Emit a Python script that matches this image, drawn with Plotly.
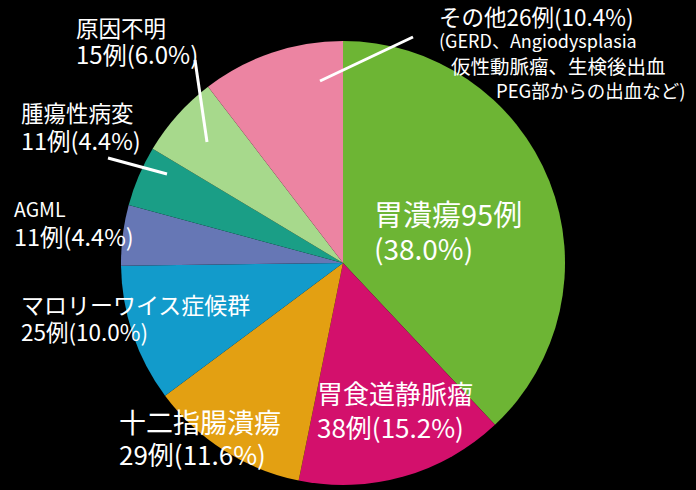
import plotly.graph_objects as go

W, H = 696, 490

categories = ["胃潰瘍", "胃食道静脈瘤", "十二指腸潰瘍", "マロリーワイス症候群",
              "AGML", "腫瘍性病変", "原因不明", "その他"]
counts = [95, 38, 29, 25, 11, 11, 15, 26]
percents = ["38.0", "15.2", "11.6", "10.0", "4.4", "4.4", "6.0", "10.4"]
other_detail = ["(GERD、Angiodysplasia", "仮性動脈瘤、生検後出血", "PEG部からの出血など)"]
colors = ["#6DB534", "#D3106C", "#E3A012", "#129BCB", "#6677B5",
          "#1A9E86", "#A7D98C", "#EC84A2"]

CJK = "Noto Sans CJK JP"

fig = go.Figure(go.Pie(
    labels=categories, values=counts, sort=False, direction="clockwise",
    rotation=0, marker=dict(colors=colors, line=dict(width=0)),
    textinfo="none", hoverinfo="label+value+percent",
    domain=dict(x=[121 / W, 565 / W], y=[1 - 485 / H, 1 - 41 / H]),
    showlegend=False,
))


def px(x):
    return x / W


def py(y):
    return 1 - y / H


def note(x, y, text, size, family=CJK):
    fig.add_annotation(x=px(x), y=py(y), xref="paper", yref="paper",
                       xanchor="left", yanchor="middle", align="left",
                       text=text, showarrow=False, borderpad=0,
                       font=dict(family=family, size=size, color="white"))


def cnt(i):
    return f"{counts[i]}例({percents[i]}%)"


# 胃潰瘍
note(373, 213, f"{categories[0]}{counts[0]}例", 29)
note(373, 248, f"({percents[0]}%)", 28)
# 胃食道静脈瘤
note(316, 392, categories[1], 26)
note(316, 426, cnt(1), 26)
# 十二指腸潰瘍
note(118, 421, categories[2], 27)
note(118, 453, cnt(2), 26)
# マロリーワイス症候群
note(20, 304, categories[3], 23)
note(20, 331, cnt(3), 22.5)
# AGML
note(13, 208, categories[4], 19.5)
note(13, 236, cnt(4), 23.5)
# 腫瘍性病変
note(20, 112, categories[5], 22.5)
note(20, 140, cnt(5), 23.5)
# 原因不明
note(75, 27, categories[6], 22.5)
note(75, 54, cnt(6), 24)
# その他
note(438, 16, f"{categories[7]}{counts[7]}例({percents[7]}%)", 22.5)
note(438, 40, other_detail[0], 18)
note(450, 65, other_detail[1], 19.5)
note(495, 90, other_detail[2], 18.5)

lines = [((320, 81), (413, 37)), ((195, 60), (207, 142)), ((108, 158), (167, 174))]
for (x0, y0), (x1, y1) in lines:
    fig.add_shape(type="line", xref="paper", yref="paper",
                  x0=px(x0), y0=py(y0), x1=px(x1), y1=py(y1),
                  line=dict(color="white", width=3))

fig.update_layout(width=W, height=H, margin=dict(l=0, r=0, t=0, b=0),
                  paper_bgcolor="black", plot_bgcolor="black")
fig.write_html("out.html")
